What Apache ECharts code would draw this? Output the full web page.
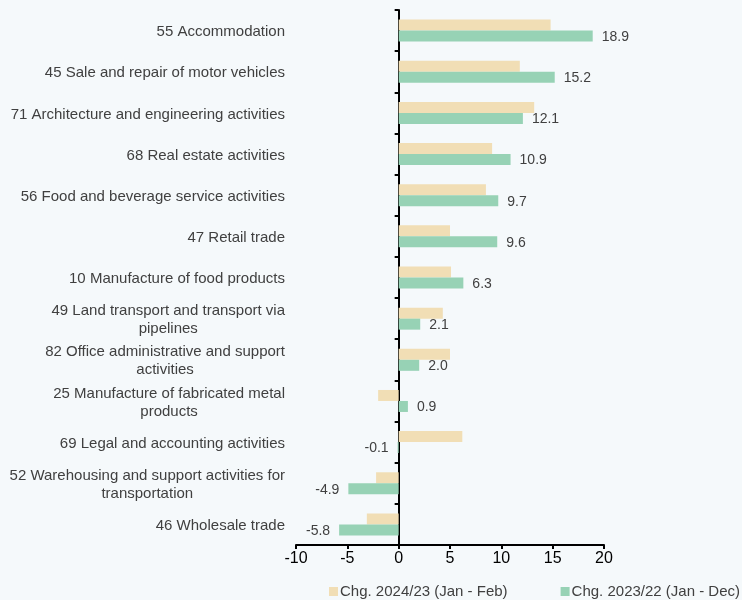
<!DOCTYPE html>
<html>
<head>
<meta charset="utf-8">
<script src="https://cdn.jsdelivr.net/npm/echarts@6/dist/echarts.min.js"></script>
<style>
  html, body { margin: 0; padding: 0; background: #f5f9fb; }
  #chart { width: 742px; height: 600px; }
</style>
</head>
<body>
<div id="chart"></div>
<script>
// categories, top to bottom
var categories = [
  '55 Accommodation',
  '45 Sale and repair of motor vehicles',
  '71 Architecture and engineering activities',
  '68 Real estate activities',
  '56 Food and beverage service activities',
  '47 Retail trade',
  '10 Manufacture of food products',
  '49 Land transport and transport via\npipelines',
  '82 Office administrative and support\nactivities',
  '25 Manufacture of fabricated metal\nproducts',
  '69 Legal and accounting activities',
  '52 Warehousing and support activities for\ntransportation',
  '46 Wholesale trade'
];
var seriesNames = ['Chg. 2024/23 (Jan - Feb)', 'Chg. 2023/22 (Jan - Dec)'];
var chg2024 = [14.8, 11.8, 13.2, 9.1, 8.5, 5.0, 5.1, 4.3, 5.0, -2.0, 6.2, -2.2, -3.1];
var chg2023 = [18.9, 15.2, 12.1, 10.9, 9.7, 9.6, 6.3, 2.1, 2.0, 0.9, -0.1, -4.9, -5.8];
var xTicks = [-10, -5, 0, 5, 10, 15, 20];

var font = "'Liberation Sans', Arial, sans-serif";
var textColor = '#404040';

var myChart = echarts.init(document.getElementById('chart'));

// green bars carry labels, left of the bar when negative
var greenData = chg2023.map(function (v) {
  return {
    value: v,
    label: { position: v < 0 ? 'left' : 'right' }
  };
});

var option = {
  backgroundColor: '#f5f9fb',
  animation: false,
  textStyle: { fontFamily: font },
  legend: {
    data: seriesNames,
    left: 329,
    top: 584,
    width: 460,
    padding: 0,
    itemWidth: 9,
    itemHeight: 9,
    itemGap: 53,
    icon: 'rect',
    textStyle: { fontSize: 15, color: textColor, fontFamily: font, padding: [0, 0, 0, -3] }
  },
  grid: { left: 296, right: 138, top: 10, bottom: 55, containLabel: false, outerBoundsMode: 'none' },
  xAxis: {
    type: 'value',
    min: xTicks[0],
    max: xTicks[xTicks.length - 1],
    interval: 5,
    axisLine: { show: true, lineStyle: { color: '#000', width: 2 } },
    axisTick: { show: true, length: 4, lineStyle: { color: '#000', width: 2 } },
    axisLabel: { fontSize: 16, color: '#000', margin: 6, fontFamily: font },
    splitLine: { show: false }
  },
  yAxis: {
    type: 'category',
    data: categories,
    inverse: true,
    axisLine: { show: true, onZero: true, lineStyle: { color: '#000', width: 2 } },
    axisTick: { show: true, length: 4, lineStyle: { color: '#000', width: 2 } },
    axisLabel: {
      margin: 11,
      fontSize: 15,
      color: textColor,
      fontFamily: font,
      lineHeight: 18,
      formatter: function (v) {
        return v.split('\n').map(function (s) { return '{c|' + s + '}'; }).join('\n');
      },
      rich: {
        c: { align: 'center', fontSize: 15, color: textColor, fontFamily: font, lineHeight: 18, padding: [3, 0, 0, 0] }
      }
    }
  },
  series: [
    {
      name: seriesNames[0],
      type: 'bar',
      data: chg2024,
      barWidth: 11,
      barGap: '0%',
      itemStyle: { color: '#f1deb5' }
    },
    {
      name: seriesNames[1],
      type: 'bar',
      data: greenData,
      barWidth: 11,
      barGap: '0%',
      itemStyle: { color: '#97d2b5' },
      label: {
        show: true,
        distance: 9,
        offset: [0, 1],
        fontSize: 14,
        color: textColor,
        fontFamily: font,
        formatter: function (p) { return p.value.toFixed(1); }
      }
    }
  ]
};
myChart.setOption(option);
</script>
</body>
</html>
